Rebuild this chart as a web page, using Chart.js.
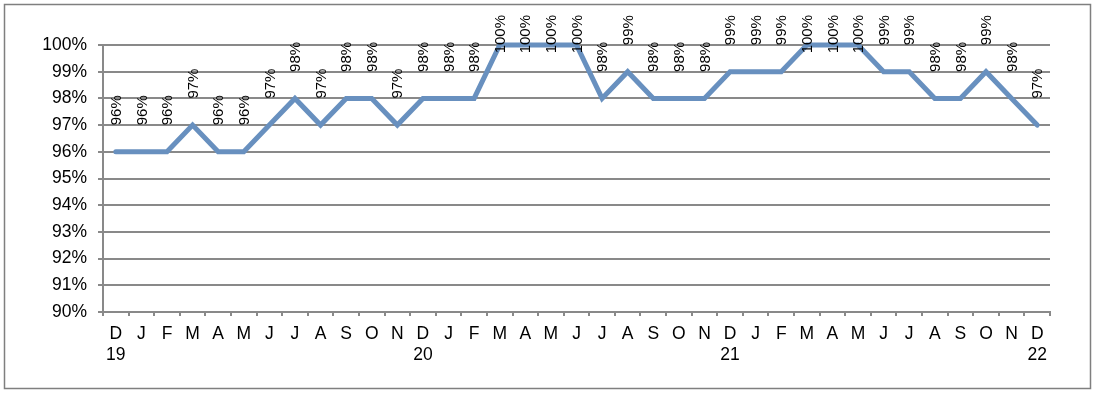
<!DOCTYPE html>
<html>
<head>
<meta charset="utf-8">
<script src="https://cdn.jsdelivr.net/npm/chart.js@4"></script>
<style>
  html, body { margin: 0; padding: 0; background: #ffffff; }
  canvas { display: block; }
</style>
</head>
<body>
<canvas id="c" width="1098" height="394"></canvas>
<script>
const months = ['D','J','F','M','A','M','J','J','A','S','O','N','D','J','F','M','A','M','J','J','A','S','O','N','D','J','F','M','A','M','J','J','A','S','O','N','D'];
const yearMarks = {0: '19', 12: '20', 24: '21', 36: '22'};
const values = [96,96,96,97,96,96,97,98,97,98,98,97,98,98,98,100,100,100,100,98,99,98,98,98,99,99,99,100,100,100,99,99,98,98,99,98,97];
const yMin = 90, yMax = 100, yStep = 1;

const labels = months.map((m, i) => yearMarks[i] ? [m, yearMarks[i]] : m);

const GRID = '#898989';
const FONT = "'Liberation Sans', Arial, sans-serif";

const frame = {
  id: 'frame',
  beforeDraw(chart) {
    const ctx = chart.ctx;
    ctx.save();
    ctx.fillStyle = '#ffffff';
    ctx.fillRect(0, 0, chart.width, chart.height);
    ctx.strokeStyle = '#7f7f7f';
    ctx.lineWidth = 1.5;
    ctx.strokeRect(4.5, 4.5, 1086, 384);
    ctx.restore();
  }
};

const valueLabels = {
  id: 'valueLabels',
  afterDatasetsDraw(chart) {
    const ctx = chart.ctx;
    const meta = chart.getDatasetMeta(0);
    ctx.save();
    ctx.font = '15px ' + FONT;
    ctx.fillStyle = '#000000';
    ctx.textAlign = 'left';
    ctx.textBaseline = 'middle';
    meta.data.forEach((pt, i) => {
      const txt = values[i] + '%';
      const w = ctx.measureText(txt).width;
      let start = pt.y - 26.5;
      if (start - w < 15) start = 15 + w;
      ctx.save();
      ctx.translate(pt.x + 1, start);
      ctx.rotate(-Math.PI / 2);
      ctx.fillText(txt, 0, 0);
      ctx.restore();
    });
    ctx.restore();
  }
};

new Chart(document.getElementById('c'), {
  type: 'line',
  data: {
    labels: labels,
    datasets: [{
      data: values,
      borderColor: '#6890BF',
      borderWidth: 5,
      pointRadius: 0,
      pointHoverRadius: 0,
      tension: 0,
      borderCapStyle: 'round',
      borderJoinStyle: 'miter',
      fill: false,
      clip: false
    }]
  },
  options: {
    responsive: false,
    animation: false,
    events: [],
    layout: { padding: { left: 0, right: 48, top: 45, bottom: 0 } },
    plugins: { legend: { display: false }, tooltip: { enabled: false } },
    scales: {
      x: {
        type: 'category',
        offset: true,
        afterFit(s) { s.height = 82; },
        grid: { drawOnChartArea: false, offset: true, drawTicks: true, tickLength: 4, color: GRID, lineWidth: 2 },
        border: { display: true, color: GRID, width: 2 },
        ticks: {
          autoSkip: false, maxRotation: 0, minRotation: 0, padding: 7,
          color: '#000000',
          font: { family: FONT, size: 17.5, lineHeight: 1.23 }
        }
      },
      y: {
        min: yMin, max: yMax,
        afterFit(s) { s.width = 103; },
        grid: { color: GRID, lineWidth: 2, drawTicks: true, tickLength: 5 },
        border: { display: true, color: GRID, width: 2 },
        ticks: {
          stepSize: yStep, padding: 11,
          color: '#000000',
          font: { family: FONT, size: 17.5 },
          callback: v => v + '%'
        }
      }
    }
  },
  plugins: [frame, valueLabels]
});
</script>
</body>
</html>
